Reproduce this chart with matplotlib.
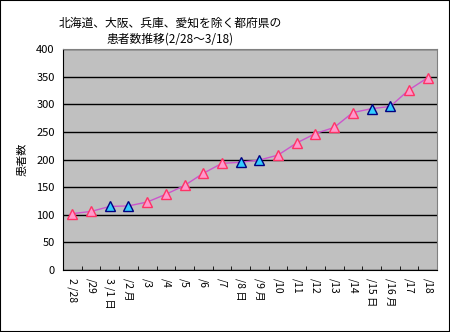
import matplotlib
matplotlib.use("Agg")
import matplotlib.pyplot as plt
from matplotlib.patches import Rectangle

plt.rcParams['font.family'] = ['Noto Sans CJK JP', 'DejaVu Sans']

labels = ["2 /28", "/29", "3 /1 日", "/2 月", "/3", "/4", "/5", "/6", "/7", "/8 日",
          "/9 月", "/10", "/11", "/12", "/13", "/14", "/15 日", "/16 月", "/17", "/18"]
values = [102, 106, 115, 116, 123, 137, 153, 175, 193, 195,
          199, 208, 230, 247, 258, 285, 292, 296, 326, 348]
weekend = [False, False, True, True, False, False, False, False, False, True,
           True, False, False, False, False, False, True, True, False, False]
yticks = [0, 50, 100, 150, 200, 250, 300, 350, 400]

fig = plt.figure(figsize=(4.5, 3.32), dpi=100)
fig.patches.append(Rectangle((0, 0), 1, 1, transform=fig.transFigure,
                             fill=False, edgecolor='black', linewidth=1.5))
ax = fig.add_axes([63/450, 1-270/332, (437-63)/450, (270-49)/332])
ax.set_facecolor('#C0C0C0')

x = list(range(len(values)))
ax.plot(x, values, color='#CC55CC', linewidth=1, zorder=3)
px = [i for i in x if not weekend[i]]
py = [values[i] for i in x if not weekend[i]]
bx = [i for i in x if weekend[i]]
by = [values[i] for i in x if weekend[i]]
ax.plot(px, py, linestyle='none', marker='^', markersize=7.5,
        markerfacecolor='#FF99CC', markeredgecolor='#FF3366', markeredgewidth=1, zorder=4)
ax.plot(bx, by, linestyle='none', marker='^', markersize=7.5,
        markerfacecolor='#33CCFF', markeredgecolor='#000080', markeredgewidth=1, zorder=4)

ax.set_xlim(-0.5, len(values) - 0.5)
ax.set_ylim(0, 400)
ax.set_yticks(yticks)
ax.set_yticklabels([str(v) for v in yticks], fontsize=8)
ax.yaxis.grid(True, color='black', linewidth=1)
ax.set_axisbelow(True)
ax.tick_params(axis='y', length=0, pad=6)

ax.set_xticks(x)
ax.set_xticklabels(labels, rotation=-90, fontsize=7.5, va='top', ha='center')
ax.tick_params(axis='x', which='major', length=0, pad=6)
ax.set_xticks([i - 0.5 for i in range(len(values) + 1)], minor=True)
ax.tick_params(axis='x', which='minor', direction='in', length=3, color='black')

for s in ['top', 'right']:
    ax.spines[s].set_color('#808080')
for s in ['left', 'bottom']:
    ax.spines[s].set_color('black')

ax.set_ylabel('患者数', fontsize=8, labelpad=6)
fig.text(170/450, 1-31/332, '北海道、大阪、兵庫、愛知を除く都府県の\n患者数推移(2/28～3/18)',
         ha='center', va='center', fontsize=8.5, linespacing=1.3)

fig.savefig('out.png', dpi=100)
